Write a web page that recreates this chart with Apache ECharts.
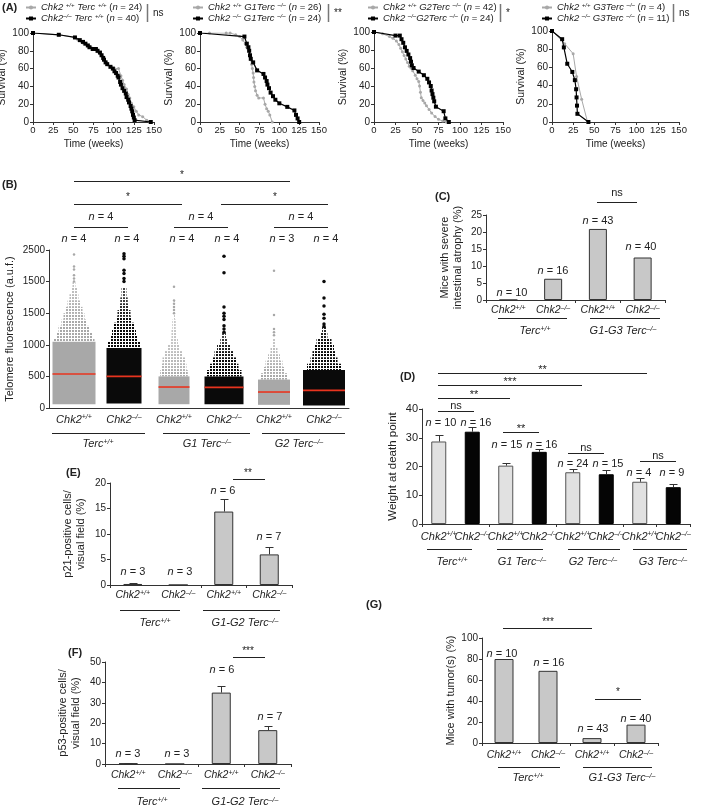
<!DOCTYPE html>
<html><head><meta charset="utf-8">
<script src="https://cdn.jsdelivr.net/npm/echarts@6/dist/echarts.min.js"></script>
<style>html,body{margin:0;padding:0;background:#fff}#c{width:701px;height:810px}</style>
</head><body><div id="c"></div>
<script>
// ================= DATA =================
// Panel A: Kaplan-Meier survival [weeks, survival %]
const weekTicks = [0, 25, 50, 75, 100, 125, 150];
const a1Wt = [[0,100],[32,98],[52,95],[55,93],[60,90],[63,88],[67,86],[72,84],[76,82],[80,79],[84,76],[87,73],[90,68],[93,64],[97,62],[101,60],[106,60],[109,52],[111,47],[113,42],[116,37],[118,31],[120,27],[122,21],[125,17],[128,12],[131,8],[136,6],[141,2],[145,0]];
const a1Ko = [[0,100],[32,98],[52,95],[58,92],[62,90],[65,88],[68,86],[70,84],[74,82],[78,82],[80,80],[83,78],[85,75],[87,72],[88,70],[90,67],[92,65],[96,62],[99,60],[101,57],[103,55],[105,52],[106,50],[108,45],[109,42],[111,38],[113,35],[115,32],[116,28],[118,25],[119,22],[121,18],[122,15],[123,12],[124,8],[125,5],[126,2],[146,0]];
const a2Wt = [[0,100],[12,100],[33,100],[38,100],[45,98],[50,96],[54,92],[57,88],[59,84],[61,80],[63,75],[64,70],[65,65],[66,60],[67,55],[67.5,50],[68,45],[69,40],[70,35],[72,30],[74,27],[80,27],[82,20],[84,15],[86,12],[88,8],[91,0]];
const a2Ko = [[0,100],[56,96],[59,88],[61,84],[62,80],[63,75],[64,71],[67,67],[72,58],[80,54],[82,50],[84,46],[85,42],[87,38],[89,33],[92,29],[95,25],[100,21],[110,17],[119,13],[121,8],[123,4],[125,0]];
const a3Wt = [[0,100],[10,98],[18,95],[22,93],[26,90],[29,86],[31,82],[33,78],[35,74],[37,70],[39,66],[41,62],[43,60],[45,57],[48,52],[50,48],[52,45],[53,40],[54,33],[55,27],[57,24],[59,21],[61,18],[64,14],[67,10],[71,6],[75,3],[80,1],[84,0]];
const a3Ko = [[0,100],[25,96],[30,96],[32,92],[34,88],[36,83],[38,79],[40,75],[42,71],[43,67],[44,63],[46,60],[52,56],[58,52],[62,48],[64,44],[66,40],[67,35],[68,31],[69,27],[70,23],[72,17],[81,12],[83,4],[87,0]];
const a4Wt = [[0,100],[15,86],[25,75],[29,50],[35,25],[42,0]];
const a4Ko = [[0,100],[12,91],[14,82],[18,64],[24,55],[27,46],[28.5,36],[29,27],[29.5,18],[30,9],[43,0]];
const legendA = [
  ['Chk2 ','+/+',' Terc ','+/+',24], ['Chk2','–/–',' Terc ','+/+',40],
  ['Chk2 ','+/+',' G1Terc ','–/–',26], ['Chk2 ','–/–',' G1Terc ','–/–',24],
  ['Chk2 ','+/+',' G2Terc ','–/–',42], ['Chk2 ','–/–','G2Terc ','–/–',24],
  ['Chk2 ','+/+',' G3Terc ','–/–',4], ['Chk2 ','–/–',' G3Terc ','–/–',11]
];
const sigA = ['ns', '**', '*', 'ns'];

// Panel B: telomere fluorescence (a.u.f.)
const catB = ['Chk2+/+','Chk2–/–','Chk2+/+','Chk2–/–','Chk2+/+','Chk2–/–'];
const groupB = ['Terc+/+','G1 Terc–/–','G2 Terc–/–'];
const nB = [4,4,4,4,3,4];
const nPairB = [4,4,4];
const tickLabelsB = ['0','500','1000','1500','1500','2500'];
const medianB = [537,500,332,326,253,279];
// density bins: [low, high, spread (fraction of column slot), point density]
const binsB1 = [[60,1050,0.86,1],[1050,1100,0.82,0.95],[1100,1200,0.72,0.85],[1200,1300,0.62,0.8],[1300,1400,0.5,0.7],[1400,1500,0.42,0.6],[1500,1600,0.34,0.55],[1600,1700,0.26,0.5],[1700,1800,0.18,0.45],[1800,1900,0.12,0.4],[1900,2000,0.06,0.35]];
const binsB2 = [[70,950,0.7,1],[950,1050,0.64,0.95],[1050,1150,0.56,0.9],[1150,1250,0.48,0.85],[1250,1350,0.4,0.75],[1350,1450,0.32,0.65],[1450,1550,0.26,0.55],[1550,1650,0.2,0.5],[1650,1750,0.15,0.45],[1750,1900,0.1,0.4]];
const binsB3 = [[60,500,0.62,1],[500,600,0.55,0.6],[600,700,0.5,0.5],[700,800,0.46,0.45],[800,900,0.36,0.4],[900,1000,0.24,0.35],[1000,1100,0.16,0.3],[1100,1250,0.1,0.3],[1250,1400,0.07,0.3],[1400,1700,0.04,0.3]];
const binsB4 = [[60,500,0.78,1],[500,600,0.7,0.9],[600,700,0.58,0.8],[700,800,0.48,0.7],[800,900,0.38,0.6],[900,1000,0.28,0.55],[1000,1100,0.15,0.45],[1100,1200,0.08,0.4]];
const binsB5 = [[50,450,0.64,1],[450,550,0.56,0.75],[550,650,0.44,0.6],[650,750,0.34,0.5],[750,850,0.24,0.45],[850,950,0.14,0.4],[950,1100,0.07,0.3]];
const binsB6 = [[40,600,0.84,1],[600,700,0.68,0.95],[700,800,0.54,0.9],[800,900,0.46,0.8],[900,1000,0.4,0.7],[1000,1100,0.3,0.6],[1100,1200,0.14,0.55],[1200,1300,0.08,0.5]];
const outB1 = [2430,2240,2190,2100,2050,2000];
const outB2 = [2440,2400,2360,2180,2130,2050,2000];
const outB3 = [1920,1700,1650,1600,1550,1500];
const outB4 = [2400,2140,1600,1500,1450,1400,1300,1250,1200];
const outB5 = [2170,1470,1250,1200,1150];
const outB6 = [2000,1740,1615,1485,1420,1330,1290];

// Panel C: severe intestinal atrophy (%)
const catC = ['Chk2+/+','Chk2–/–','Chk2+/+','Chk2–/–'];
const groupC = ['Terc+/+','G1-G3 Terc–/–'];
const valC = [0, 6.25, 20.9, 12.5];
const nC = [10,16,43,40];

// Panel D: weight at death point
const catD = ['Chk2+/+','Chk2–/–','Chk2+/+','Chk2–/–','Chk2+/+','Chk2–/–','Chk2+/+','Chk2–/–'];
const groupD = ['Terc+/+','G1 Terc–/–','G2 Terc–/–','G3 Terc–/–'];
const valD = [28.7,32.1,20.3,25.1,18.0,17.3,14.7,12.8];
const errD = [2.3,1.5,1.0,1.1,1.0,1.5,1.2,1.1];
const nD = [10,16,15,16,24,15,4,9];

// Panel E: p21-positive cells / visual field (%)
const catE = ['Chk2+/+','Chk2–/–','Chk2+/+','Chk2–/–'];
const groupE = ['Terc+/+','G1-G2 Terc–/–'];
const valE = [0.2,0,14.4,6.0];
const errE = [0.15,0,2.4,1.4];
const nE = [3,3,6,7];

// Panel F: p53-positive cells / visual field (%)
const valF = [0.3,0,35.0,16.6];
const errF = [0.2,0,3.3,1.8];
const nF = [3,3,6,7];

// Panel G: mice with tumor(s) (%)
const groupG = ['Terc+/+','G1-G3 Terc–/–'];
const valG = [80,68.75,4.65,17.5];
const nG = [10,16,43,40];

// ================= HELPERS =================
const FF = 'Liberation Sans, Arial, sans-serif';
const INK = '#222';
function richE(fs){
  return {
    i:{fontStyle:'italic',fontSize:fs,fontFamily:FF,color:INK},
    r:{fontSize:fs,fontFamily:FF,color:INK},
    s:{fontStyle:'italic',fontSize:Math.round(fs*0.62),fontFamily:FF,color:INK,verticalAlign:'top'},
    b:{fontWeight:'bold',fontSize:fs,fontFamily:FF,color:INK}
  };
}
function richZ(fs){
  return {
    i:{fontStyle:'italic',fontSize:fs,fontFamily:FF,fill:INK},
    r:{fontSize:fs,fontFamily:FF,fill:INK},
    s:{fontStyle:'italic',fontSize:Math.round(fs*0.62),fontFamily:FF,fill:INK,verticalAlign:'top'},
    b:{fontWeight:'bold',fontSize:fs,fontFamily:FF,fill:INK}
  };
}
function geno(s){
  const m = s.match(/^(.*?)([+–]\/[+–])$/);
  return m ? '{i|'+m[1]+'}{s|'+m[2]+'}' : '{i|'+s+'}';
}
function nlab(n){ return '{i|n}{r| = '+n+'}'; }
function txt(x,y,text,fs,align){
  align = align||'center';
  return {type:'text',x:x,y:y,z:10,style:{text:text,rich:richZ(fs),fontSize:fs,fontFamily:FF,fill:INK,
    align:align,verticalAlign:'middle',textAlign:align,textVerticalAlign:'middle'}};
}
function ln(x1,y1,x2,y2,w,c){
  const o = (w||1)%2 ? 0.5 : 0;
  return {type:'line',z:10,shape:{x1:x1+(x1===x2?o:0),y1:y1+(y1===y2?o:0),x2:x2+(x1===x2?o:0),y2:y2+(y1===y2?o:0)},
    style:{stroke:c||'#222',lineWidth:w||1}};
}
function makeDots(color){
  const cv = document.createElement('canvas'); cv.width = 3; cv.height = 3;
  const cx = cv.getContext('2d'); cx.fillStyle = color; cx.fillRect(0,0,2,2);
  return {image:cv, repeat:'repeat'};
}
const axLine = {show:true,lineStyle:{color:'#333',width:1}};
const axTick = {show:true,length:3,lineStyle:{color:'#333',width:1}};
function valY(gi,min,max,interval,name,gap,fs,extraLabel){
  return {type:'value',gridIndex:gi,min:min,max:max,interval:interval,
    name:name,nameLocation:'middle',nameGap:gap,nameRotate:90,
    nameTextStyle:{fontSize:fs||11,fontFamily:FF,color:INK,lineHeight:(fs||11)+2},
    axisLine:axLine,axisTick:axTick,splitLine:{show:false},
    axisLabel:Object.assign({fontSize:10,fontFamily:FF,color:INK,margin:4},extraLabel||{})};
}
function catX(gi,cats,margin,tickInterval,fs){
  return {type:'category',gridIndex:gi,data:cats,boundaryGap:true,
    axisLine:axLine,
    axisTick:tickInterval==null?{show:false}:{show:true,length:3,interval:tickInterval,lineStyle:{color:'#333'}},
    axisLabel:{interval:0,hideOverlap:false,margin:margin,formatter:v=>geno(v),rich:richE(fs||11),fontSize:fs||11},
    splitLine:{show:false}};
}
function errSeries(xi,yi,vals,errs,cap){
  return {type:'custom',xAxisIndex:xi,yAxisIndex:yi,z:5,
    data:vals.map((v,i)=>[i,v,errs[i]]).filter(d=>d[2]>0),
    renderItem:function(p,api){
      const x=api.value(0), v=api.value(1), e=api.value(2);
      const p0=api.coord([x,v]), p1=api.coord([x,v+e]);
      const xx=Math.round(p0[0])+0.5, yt=Math.round(p1[1])+0.5;
      return {type:'group',children:[
        {type:'line',shape:{x1:xx,y1:p0[1],x2:xx,y2:yt},style:{stroke:'#333',lineWidth:1}},
        {type:'line',shape:{x1:xx-cap/2,y1:yt,x2:xx+cap/2,y2:yt},style:{stroke:'#333',lineWidth:1}}]};
    }};
}

// ================= GRIDS =================
const grids = [
  {left:33,top:33,width:121,height:89},
  {left:200,top:33,width:119,height:89},
  {left:374,top:32,width:129,height:90},
  {left:552,top:31,width:127,height:91},
  {left:49,top:250,width:300,height:158},
  {left:486,top:215,width:179,height:85},
  {left:422,top:409,width:268,height:115},
  {left:110,top:483,width:182,height:102},
  {left:105,top:662,width:186,height:102},
  {left:482,top:638,width:176,height:105}
].map(g=>Object.assign({outerBoundsMode:'none',containLabel:false},g));

const xAxes = [], yAxes = [], series = [], legends = [];
// ---- Panel A ----
const survSets = [[a1Wt,a1Ko],[a2Wt,a2Ko],[a3Wt,a3Ko],[a4Wt,a4Ko]];
const legLeft = [25,192,367,541];
const LEG = {};
survSets.forEach((pair,k)=>{
  xAxes.push({type:'value',gridIndex:k,min:weekTicks[0],max:weekTicks[weekTicks.length-1],interval:25,
    name:'Time (weeks)',nameLocation:'middle',nameGap:17,nameTextStyle:{fontSize:10,fontFamily:FF,color:INK},
    axisLine:axLine,axisTick:axTick,splitLine:{show:false},
    axisLabel:{fontSize:9.5,fontFamily:FF,color:INK,margin:3,interval:0,hideOverlap:false}});
  yAxes.push(valY(k,0,100,20,'Survival (%)',21,10.5));
  const names = ['A'+k+'w','A'+k+'k'];
  [0,1].forEach(j=>{
    const L = legendA[k*2+j];
    LEG[names[j]] = '{i|'+L[0]+'}{s|'+L[1]+'}{i|'+L[2]+'}{s|'+L[3]+'}{r| (}{i|n}{r| = '+L[4]+')}';
    series.push({type:'line',name:names[j],xAxisIndex:k,yAxisIndex:k,data:pair[j],
      symbol:j?'rect':'circle',symbolSize:j?4:3,showSymbol:true,
      itemStyle:{color:j?'#000':'#a8a8a8'},
      lineStyle:{color:j?'#000':'#a8a8a8',width:j?1.2:1},z:j?3:2,silent:true});
  });
  legends.push({data:names,left:legLeft[k],top:2,orient:'vertical',itemWidth:10,itemHeight:5,itemGap:0,padding:0,
    selectedMode:false,formatter:n=>LEG[n],textStyle:{fontSize:9.5,fontFamily:FF,color:INK,rich:richE(9.5),lineHeight:11}});
});

// ---- Panel B ----
xAxes.push(catX(4,catB,6,null,11));
yAxes.push(valY(4,0,2500,500,'Telomere fluorescence (a.u.f.)',33,11,{formatter:(v)=>tickLabelsB[v/500]}));
const binsB = [binsB1,binsB2,binsB3,binsB4,binsB5,binsB6];
const outB = [outB1,outB2,outB3,outB4,outB5,outB6];
[0,1].forEach(j=>{
  const col = j?'#0a0a0a':'#a8a8a8';
  const pat = makeDots(col);
  const data = [];
  binsB.forEach((bins,c)=>{ if(c%2===j) bins.forEach(b=>data.push([c,b[0],b[1],b[2],b[3]])); });
  series.push({type:'custom',xAxisIndex:4,yAxisIndex:4,data:data,z:2,
    renderItem:function(p,api){
      const c=api.value(0), lo=api.value(1), hi=api.value(2), w=api.value(3), d=api.value(4);
      const a=api.coord([c,hi]), b=api.coord([c,lo]);
      const bw=api.size([1,0])[0]*w;
      return {type:'rect',shape:{x:a[0]-bw/2,y:a[1],width:bw,height:b[1]-a[1]},
        style:{fill:d>=1?col:pat,opacity:d>=1?1:Math.min(1,d+0.35)}};
    }});
  const od = [];
  outB.forEach((arr,c)=>{ if(c%2===j) arr.forEach(v=>od.push([c,v])); });
  series.push({type:'scatter',xAxisIndex:4,yAxisIndex:4,data:od,symbolSize:j?3.5:2.5,
    itemStyle:{color:col,opacity:1},z:3});
});
series.push({type:'custom',xAxisIndex:4,yAxisIndex:4,z:4,
  data:medianB.map((m,c)=>[c,m,binsB[c][0][2]]),
  renderItem:function(p,api){
    const a=api.coord([api.value(0),api.value(1)]);
    const bw=api.size([1,0])[0]*api.value(2);
    return {type:'line',shape:{x1:a[0]-bw/2,y1:a[1],x2:a[0]+bw/2,y2:a[1]},style:{stroke:'#e8341f',lineWidth:1.6}};
  }});

// ---- Panel C ----
xAxes.push(catX(5,catC,5,1,10.5));
yAxes.push(valY(5,0,25,5,'Mice with severe\nintestinal atrophy (%)',22,11));
series.push({type:'bar',xAxisIndex:5,yAxisIndex:5,data:valC,barWidth:18,
  itemStyle:{color:'#c8c8c8',borderColor:'#333',borderWidth:1}});

// ---- Panel D ----
xAxes.push(catX(6,catD,7,1,11));
yAxes.push(valY(6,0,40,10,'Weight at death point',22,11.5,{fontSize:11}));
series.push({type:'bar',xAxisIndex:6,yAxisIndex:6,barWidth:15,
  data:valD.map((v,i)=>({value:v,itemStyle:{color:i%2?'#050505':'#e1e1e1',borderColor:i%2?'#000':'#555',borderWidth:1}}))});
series.push(errSeries(6,6,valD,errD,8));

// ---- Panel E ----
xAxes.push(catX(7,catE,5,1,10.5));
yAxes.push(valY(7,0,20,5,'p21-positive cells/\nvisual field (%)',23,11));
series.push({type:'bar',xAxisIndex:7,yAxisIndex:7,data:valE,barWidth:19,
  itemStyle:{color:'#c8c8c8',borderColor:'#333',borderWidth:1}});
series.push(errSeries(7,7,valE,errE,8));

// ---- Panel F ----
xAxes.push(catX(8,catE,6,1,10.5));
yAxes.push(valY(8,0,50,10,'p53-positive cells/\nvisual field (%)',23,11));
series.push({type:'bar',xAxisIndex:8,yAxisIndex:8,data:valF,barWidth:19,
  itemStyle:{color:'#c8c8c8',borderColor:'#333',borderWidth:1}});
series.push(errSeries(8,8,valF,errF,8));

// ---- Panel G ----
xAxes.push(catX(9,catC,7,1,10.5));
yAxes.push(valY(9,0,100,20,'Mice with tumor(s) (%)',25,11));
series.push({type:'bar',xAxisIndex:9,yAxisIndex:9,data:valG,barWidth:19,
  itemStyle:{color:'#c8c8c8',borderColor:'#333',borderWidth:1}});

// ================= ANNOTATIONS =================
const G = [];
// A
G.push(txt(2,8,'{b|(A)}',11,'left'));
[[147,'ns'],[328,'**'],[500,'*'],[673,'ns']].forEach((a,k)=>{
  G.push(ln(a[0],4,a[0],22,1.5,'#777'));
  G.push(txt(a[0]+6,13,'{r|'+sigA[k]+'}',10,'left'));
});
// B
G.push(txt(2,185,'{b|(B)}',11,'left'));
G.push(ln(74,181,290,181)); G.push(txt(182,175,'{r|*}',10));
G.push(ln(74,204,182,204)); G.push(txt(128,197,'{r|*}',10));
G.push(ln(221,204,328,204)); G.push(txt(275,197,'{r|*}',10));
[[74,128],[174,228],[274,328]].forEach((s,k)=>{
  G.push(ln(s[0],227,s[1],227)); G.push(txt((s[0]+s[1])/2,217,nlab(nPairB[k]),11));
});
[74,127,182,227,282,326].forEach((x,k)=>G.push(txt(x,239,nlab(nB[k]),11)));
[[52,145,98],[163,250,207],[262,345,299]].forEach((s,k)=>{
  G.push(ln(s[0],433,s[1],433)); G.push(txt(s[2],444,geno(groupB[k]),11));
});
// C
G.push(txt(435,197,'{b|(C)}',11,'left'));
G.push(ln(597,202,637,202)); G.push(txt(617,193,'{r|ns}',11));
[[512,293],[553,271],[598,221],[641,247]].forEach((p,k)=>G.push(txt(p[0],p[1],nlab(nC[k]),11)));
[[498,567,535],[590,660,623]].forEach((s,k)=>{
  G.push(ln(s[0],318,s[1],318)); G.push(txt(s[2],331,geno(groupC[k]),11));
});
// D
G.push(txt(400,377,'{b|(D)}',11,'left'));
[[373,438,647,'**'],[385,438,582,'***'],[398,438,510,'**'],[411,438,474,'ns'],
 [432,503,539,'**'],[453,568,604,'ns'],[461,640,676,'ns']].forEach(b=>{
  G.push(ln(b[1],b[0],b[2],b[0])); G.push(txt((b[1]+b[2])/2,b[0]-(b[3]==='ns'?5:3),'{r|'+b[3]+'}',11));
});
[[441,423],[476,423],[507,445],[542,445],[573,464],[608,464],[639,473],[672,473]].forEach((p,k)=>G.push(txt(p[0],p[1],nlab(nD[k]),11)));
[[427,472,452],[497,543,522],[568,620,593],[633,687,663]].forEach((s,k)=>{
  G.push(ln(s[0],549,s[1],549)); G.push(txt(s[2],562,geno(groupD[k]),11));
});
// E
G.push(txt(66,473,'{b|(E)}',11,'left'));
G.push(ln(233,479,265,479)); G.push(txt(248,473,'{r|**}',10));
[[133,572],[180,572],[223,491],[269,537]].forEach((p,k)=>G.push(txt(p[0],p[1],nlab(nE[k]),11)));
[[120,180,155],[203,280,245]].forEach((s,k)=>{
  G.push(ln(s[0],610,s[1],610)); G.push(txt(s[2],623,geno(groupE[k]),11));
});
// F
G.push(txt(68,653,'{b|(F)}',11,'left'));
G.push(ln(233,657,265,657)); G.push(txt(248,651,'{r|***}',10));
[[128,754],[177,754],[222,670],[270,717]].forEach((p,k)=>G.push(txt(p[0],p[1],nlab(nF[k]),11)));
[[118,180,152],[202,280,245]].forEach((s,k)=>{
  G.push(ln(s[0],788,s[1],788)); G.push(txt(s[2],802,geno(groupE[k]),11));
});
// G
G.push(txt(366,605,'{b|(G)}',11,'left'));
G.push(ln(503,628,592,628)); G.push(txt(548,622,'{r|***}',10));
G.push(ln(595,699,641,699)); G.push(txt(618,692,'{r|*}',10));
[[502,654],[549,663],[593,729],[636,719]].forEach((p,k)=>G.push(txt(p[0],p[1],nlab(nG[k]),11)));
[[498,560,528],[583,652,622]].forEach((s,k)=>{
  G.push(ln(s[0],767,s[1],767)); G.push(txt(s[2],778,geno(groupG[k]),11));
});

const chart = echarts.init(document.getElementById('c'),null,{renderer:'canvas'});
chart.setOption({
  animation:false,
  backgroundColor:'#fff',
  textStyle:{fontFamily:FF,color:INK},
  grid:grids, xAxis:xAxes, yAxis:yAxes, legend:legends, series:series, graphic:G
});
</script></body></html>
